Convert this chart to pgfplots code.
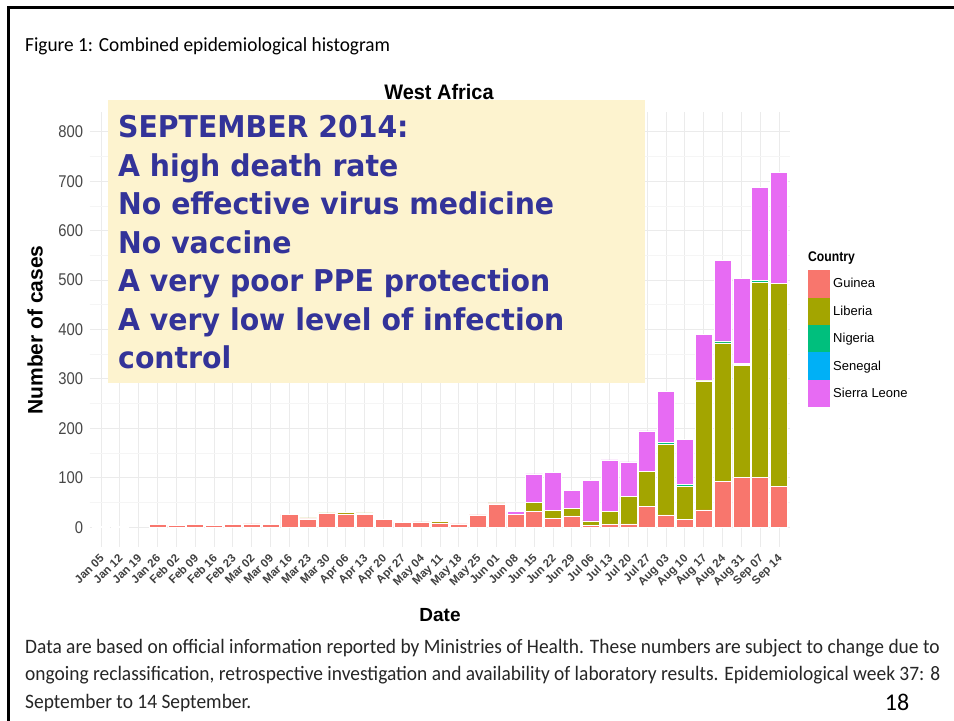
\documentclass[border=0pt]{standalone}
\usepackage{pgfplots}
\pgfplotsset{compat=1.18}
\usepackage{pgfplotstable}
\usepackage{fontspec}
\setmainfont{Liberation Sans}
\newfontfamily\calfont{Carlito}
\newfontfamily\dvfont{DejaVu Sans}
\definecolor{cG}{HTML}{F8766D}
\definecolor{cL}{HTML}{A3A500}
\definecolor{cN}{HTML}{00BF7D}
\definecolor{cS}{HTML}{00B0F6}
\definecolor{cSL}{HTML}{E76BF3}
\definecolor{boxbg}{HTML}{FDF3CF}
\definecolor{boxtxt}{HTML}{333399}
\pgfplotstableread{
i  G   L   N  S  SL
0  2   0   0  0  0
1  2   0   0  0  0
2  0   0   0  0  0
3  5   0   0  0  0
4  3   0   0  0  0
5  5   0   0  0  0
6  3   0   0  0  0
7  5   0   0  0  0
8  7   0   0  0  0
9  6   0   0  0  0
10 26  0   0  0  0
11 17  2   0  0  0
12 28  1   0  0  0
13 27  3   0  0  0
14 26  3   0  0  0
15 16  0   0  0  0
16 10  0   0  0  0
17 11  0   0  0  0
18 9   3   0  0  0
19 7   0   0  0  0
20 25  0   0  0  0
21 47  2   0  0  0
22 26  0   0  0  6
23 32  18  0  0  58
24 18  16  0  0  77
25 23  15  0  0  37
26 3   10  0  0  82
27 5   27  0  0  104
28 7   55  0  0  70
29 42  71  0  0  82
30 25  143 4  0  103
31 16  66  5  0  90
32 35  261 1  0  93
33 92  281 4  0  163
34 101 227 2  1  172
35 101 394 5  0  187
36 82  411 1  0  224
}\data
\begin{document}
\begin{tikzpicture}[x=1bp,y=1bp]
\useasboundingbox (0,0) rectangle (954,721);
\fill[white] (0,0) rectangle (954,721);
\begin{axis}[
  at={(89.7bp,174bp)}, anchor=south west,
  scale only axis, width=700.6bp, height=435bp,
  xmin=-0.6, xmax=36.6, ymin=-40, ymax=840,
  ybar stacked, bar width=0.9,
  ytick={0,100,...,800}, minor ytick={50,150,...,750},
  xtick={0,...,36},
  xticklabels={Jan 05,Jan 12,Jan 19,Jan 26,Feb 02,Feb 09,Feb 16,Feb 23,Mar 02,Mar 09,Mar 16,Mar 23,Mar 30,Apr 06,Apr 13,Apr 20,Apr 27,May 04,May 11,May 18,May 25,Jun 01,Jun 08,Jun 15,Jun 22,Jun 29,Jul 06,Jul 13,Jul 20,Jul 27,Aug 03,Aug 10,Aug 17,Aug 24,Aug 31,Sep 07,Sep 14},
  grid=both,
  major grid style={draw=black!8, line width=0.9bp},
  minor grid style={draw=black!4, line width=0.6bp},
  axis line style={draw=none},
  major tick length=0pt, minor tick length=0pt,
  /pgf/number format/assume math mode=true,
  yticklabel style={font=\fontsize{17bp}{17bp}\selectfont, text=black!72, xscale=0.87, xshift=-4bp},
  xticklabel style={font=\bfseries\fontsize{11.5bp}{11.5bp}\selectfont, text=black!75, yshift=-6bp, xshift=-2bp, rotate=45, anchor=north east, inner sep=0pt},
  legend style={at={(rel axis cs:1.0253,0.6368)}, anchor=north west, draw=none, fill=none, inner sep=0pt, row sep=0pt, column sep=3bp,
    font=\fontsize{13bp}{13bp}\selectfont,
    nodes={inner sep=0pt, minimum height=27.4bp, anchor=west}},
  legend cell align=left,
  legend image code/.code={\fill[#1,draw=none] (0bp,-13.7bp) rectangle (22bp,13.7bp);},
  every axis plot/.append style={draw=white, line width=0.5bp},
]
\addplot[fill=cG] table[x=i,y=G]{\data};
\addplot[fill=cL] table[x=i,y=L]{\data};
\addplot[fill=cN] table[x=i,y=N]{\data};
\addplot[fill=cS] table[x=i,y=S]{\data};
\addplot[fill=cSL] table[x=i,y=SL]{\data};
\legend{Guinea,Liberia,Nigeria,Senegal,Sierra Leone}
\end{axis}
% legend title
\node[anchor=west, inner sep=0, font=\bfseries\fontsize{14bp}{14bp}\selectfont, xscale=0.87] at (808,463) {Country};
% axis titles
\node[font=\bfseries\fontsize{21bp}{21bp}\selectfont, rotate=90, inner sep=0] at (35,391) {Number of cases};
\node[font=\bfseries\fontsize{19bp}{19bp}\selectfont, inner sep=0] at (440,106) {Date};
\node[font=\bfseries\fontsize{21bp}{21bp}\selectfont, inner sep=0, xscale=0.95] at (439,629) {West Africa};
% yellow box
\fill[boxbg] (108,338) rectangle (645,621);
\node[anchor=north west, inner sep=0, align=left, text=boxtxt, font=\dvfont\bfseries\fontsize{30bp}{38.5bp}\selectfont, xscale=0.945] at (118,605.5)
 {SEPTEMBER 2014:\\A high death rate\\No effective virus medicine\\No vaccine\\A very poor PPE protection\\A very low level of infection\\control};
% slide texts
\node[anchor=west, inner sep=0, font=\calfont\fontsize{20bp}{20bp}\selectfont, xscale=0.965] at (25,675) {Figure 1: Combined epidemiological histogram};
\node[anchor=north west, inner sep=0, align=left, font=\calfont\fontsize{20.5bp}{27.5bp}\selectfont, xscale=0.948, text=black!85] at (25,82)
 {Data are based on official information reported by Ministries of Health. These numbers are subject to change due to\\ongoing reclassification, retrospective investigation and availability of laboratory results. Epidemiological week 37: 8\\September to 14 September.};
\node[anchor=center, inner sep=0, font=\calfont\fontsize{24bp}{24bp}\selectfont] at (897,19) {18};
% frame
\draw[line width=3bp] (8,0) -- (8,713) -- (954,713);
\end{tikzpicture}
\end{document}
